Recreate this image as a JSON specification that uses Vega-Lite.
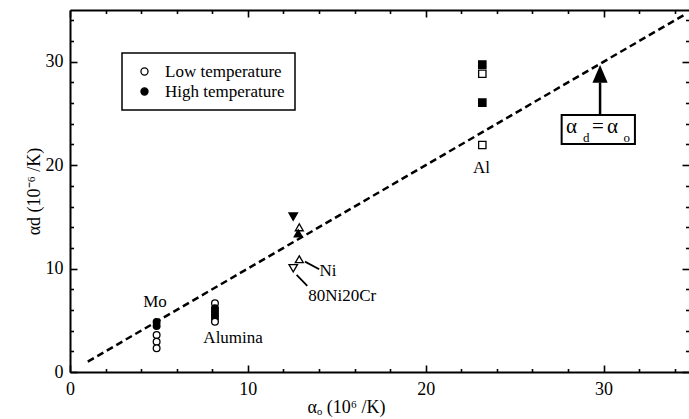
{
  "$schema": "https://vega.github.io/schema/vega-lite/v6.json",
  "width": 619,
  "height": 362,
  "autosize": "none",
  "padding": {"left": 70, "top": 10, "right": 0, "bottom": 47},
  "background": "white",
  "config": {
    "view": {"stroke": null},
    "font": "Liberation Serif",
    "axis": {
      "grid": false,
      "domainColor": "black",
      "domainWidth": 2,
      "tickColor": "black",
      "tickWidth": 1.6,
      "labelFlush": false,
      "labelOverlap": false
    },
    "legend": {"strokeWidth": 1.5}
  },
  "layer": [
    {
      "data": {"values": [{"x": 1.0, "y": 1.0, "x2": 34.6, "y2": 34.6}]},
      "mark": {"type": "rule", "strokeDash": [7, 4], "strokeWidth": 2.5, "color": "black"},
      "encoding": {
        "x": {
          "field": "x", "type": "quantitative",
          "scale": {"domain": [0, 34.8], "nice": false, "zero": false},
          "axis": {
            "orient": "bottom",
            "values": [0, 2, 4, 6, 8, 10, 12, 14, 16, 18, 20, 22, 24, 26, 28, 30, 32, 34],
            "labelExpr": "datum.value % 10 === 0 ? datum.label : ''",
            "tickSize": {"condition": {"test": "datum.value % 10 === 0", "value": -7}, "value": -3.5},
            "labelPadding": 15,
            "labelFont": "Liberation Serif",
            "labelFontSize": 18,
            "labelColor": "black",
            "title": "αₒ (10⁶ /K)",
            "titleFont": "Liberation Serif",
            "titleFontSize": 18,
            "titleFontWeight": "normal",
            "titleColor": "black",
            "titleX": 276,
            "titleY": 35,
            "titleBaseline": "middle",
            "titleAlign": "center"
          }
        },
        "y": {
          "field": "y", "type": "quantitative",
          "scale": {"domain": [0, 35], "nice": false, "zero": false},
          "axis": {
            "orient": "left",
            "values": [0, 2, 4, 6, 8, 10, 12, 14, 16, 18, 20, 22, 24, 26, 28, 30, 32, 34],
            "labelExpr": "datum.value % 10 === 0 ? datum.label : ''",
            "tickSize": {"condition": {"test": "datum.value % 10 === 0", "value": -7}, "value": -3.5},
            "labelPadding": 14,
            "labelFont": "Liberation Serif",
            "labelFontSize": 18,
            "labelColor": "black",
            "title": "αd (10⁻⁶ /K)",
            "titleFont": "Liberation Serif",
            "titleFontSize": 18,
            "titleFontWeight": "normal",
            "titleColor": "black",
            "titlePadding": 2
          }
        },
        "x2": {"field": "x2"},
        "y2": {"field": "y2"}
      }
    },
    {
      "data": {"values": [{"x": 29.8, "y": 24.85, "y2": 28.0}]},
      "mark": {"type": "rule", "strokeWidth": 2.5, "color": "black"},
      "encoding": {
        "x": {"field": "x", "type": "quantitative", "scale": {"domain": [0, 34.8], "nice": false, "zero": false}, "axis": null},
        "y": {"field": "y", "type": "quantitative", "scale": {"domain": [0, 35], "nice": false, "zero": false}, "axis": null},
        "y2": {"field": "y2"}
      }
    },
    {
      "data": {"values": [{"x": 29.8, "y": 28.82}]},
      "mark": {"type": "point", "shape": "M0,-1.1L-0.95,1.1L0.95,1.1Z", "size": 256, "filled": true, "color": "black", "opacity": 1},
      "encoding": {
        "x": {"field": "x", "type": "quantitative", "scale": {"domain": [0, 34.8], "nice": false, "zero": false}, "axis": null},
        "y": {"field": "y", "type": "quantitative", "scale": {"domain": [0, 35], "nice": false, "zero": false}, "axis": null}
      }
    },
    {
      "data": {"values": [{"x": 27.64, "x2": 31.76, "y": 22.05, "y2": 24.85}]},
      "mark": {"type": "rect", "fill": "white", "stroke": "black", "strokeWidth": 2},
      "encoding": {
        "x": {"field": "x", "type": "quantitative", "scale": {"domain": [0, 34.8], "nice": false, "zero": false}, "axis": null},
        "y": {"field": "y", "type": "quantitative", "scale": {"domain": [0, 35], "nice": false, "zero": false}, "axis": null},
        "x2": {"field": "x2"},
        "y2": {"field": "y2"}
      }
    },
    {
      "data": {"values": [
        {"x": 28.2, "y": 23.7, "t": "α"},
        {"x": 29.68, "y": 23.7, "t": "="},
        {"x": 30.5, "y": 23.7, "t": "α"}
      ]},
      "mark": {"type": "text", "font": "Liberation Serif", "fontSize": 21, "color": "black", "baseline": "middle", "align": "center"},
      "encoding": {
        "x": {"field": "x", "type": "quantitative", "scale": {"domain": [0, 34.8], "nice": false, "zero": false}, "axis": null},
        "y": {"field": "y", "type": "quantitative", "scale": {"domain": [0, 35], "nice": false, "zero": false}, "axis": null},
        "text": {"field": "t"}
      }
    },
    {
      "data": {"values": [
        {"x": 29.02, "y": 22.6, "t": "d"},
        {"x": 31.3, "y": 22.6, "t": "o"}
      ]},
      "mark": {"type": "text", "font": "Liberation Serif", "fontSize": 13, "color": "black", "baseline": "middle", "align": "center"},
      "encoding": {
        "x": {"field": "x", "type": "quantitative", "scale": {"domain": [0, 34.8], "nice": false, "zero": false}, "axis": null},
        "y": {"field": "y", "type": "quantitative", "scale": {"domain": [0, 35], "nice": false, "zero": false}, "axis": null},
        "text": {"field": "t"}
      }
    },
    {
      "data": {"values": [
        {"x": 13.21, "y": 10.67, "x2": 14.01, "y2": 9.93},
        {"x": 12.74, "y": 9.38, "x2": 13.34, "y2": 8.32}
      ]},
      "mark": {"type": "rule", "strokeWidth": 1.8, "color": "black"},
      "encoding": {
        "x": {"field": "x", "type": "quantitative", "scale": {"domain": [0, 34.8], "nice": false, "zero": false}, "axis": null},
        "y": {"field": "y", "type": "quantitative", "scale": {"domain": [0, 35], "nice": false, "zero": false}, "axis": null},
        "x2": {"field": "x2"},
        "y2": {"field": "y2"}
      }
    },
    {
      "data": {"values": [
        {"material": "Mo", "x": 4.87, "y": 4.84, "temp": "High temperature", "shape": "circle"},
        {"material": "Mo", "x": 4.87, "y": 4.45, "temp": "High temperature", "shape": "circle"},
        {"material": "Mo", "x": 4.87, "y": 3.58, "temp": "Low temperature", "shape": "circle"},
        {"material": "Mo", "x": 4.87, "y": 2.93, "temp": "Low temperature", "shape": "circle"},
        {"material": "Mo", "x": 4.87, "y": 2.29, "temp": "Low temperature", "shape": "circle"},
        {"material": "Alumina", "x": 8.15, "y": 6.64, "temp": "Low temperature", "shape": "circle"},
        {"material": "Alumina", "x": 8.15, "y": 6.16, "temp": "High temperature", "shape": "circle"},
        {"material": "Alumina", "x": 8.15, "y": 5.83, "temp": "High temperature", "shape": "circle"},
        {"material": "Alumina", "x": 8.15, "y": 5.51, "temp": "High temperature", "shape": "circle"},
        {"material": "Alumina", "x": 8.15, "y": 5.19, "temp": "High temperature", "shape": "circle"},
        {"material": "Alumina", "x": 8.15, "y": 4.86, "temp": "Low temperature", "shape": "circle"},
        {"material": "80Ni20Cr", "x": 12.55, "y": 15.02, "temp": "High temperature", "shape": "triangle-down"},
        {"material": "Ni", "x": 12.89, "y": 13.99, "temp": "Low temperature", "shape": "triangle-up"},
        {"material": "Ni", "x": 12.83, "y": 13.41, "temp": "High temperature", "shape": "triangle-up"},
        {"material": "Ni", "x": 12.89, "y": 10.9, "temp": "Low temperature", "shape": "triangle-up"},
        {"material": "80Ni20Cr", "x": 12.55, "y": 10.03, "temp": "Low temperature", "shape": "triangle-down"},
        {"material": "Al", "x": 23.18, "y": 29.72, "temp": "High temperature", "shape": "square"},
        {"material": "Al", "x": 23.18, "y": 28.84, "temp": "Low temperature", "shape": "square"},
        {"material": "Al", "x": 23.18, "y": 26.04, "temp": "High temperature", "shape": "square"},
        {"material": "Al", "x": 23.18, "y": 21.95, "temp": "Low temperature", "shape": "square"}
      ]},
      "mark": {"type": "point", "filled": true, "stroke": "black", "strokeWidth": 1.3, "opacity": 1, "fillOpacity": 1, "strokeOpacity": 1},
      "encoding": {
        "x": {
          "field": "x", "type": "quantitative",
          "scale": {"domain": [0, 34.8], "nice": false, "zero": false},
          "axis": {
            "orient": "top",
            "values": [0, 2, 4, 6, 8, 10, 12, 14, 16, 18, 20, 22, 24, 26, 28, 30, 32, 34],
            "labels": false,
            "title": null,
            "tickSize": {"condition": {"test": "datum.value % 10 === 0", "value": -7}, "value": -3.5}
          }
        },
        "y": {
          "field": "y", "type": "quantitative",
          "scale": {"domain": [0, 35], "nice": false, "zero": false},
          "axis": {
            "orient": "right",
            "values": [0, 2, 4, 6, 8, 10, 12, 14, 16, 18, 20, 22, 24, 26, 28, 30, 32, 34],
            "labels": false,
            "title": null,
            "domain": false,
            "tickSize": {"condition": {"test": "datum.value % 10 === 0", "value": -7}, "value": -3.5}
          }
        },
        "shape": {"field": "shape", "type": "nominal", "scale": null, "legend": null},
        "size": {
          "field": "shape", "type": "nominal",
          "scale": {"domain": ["circle", "square", "triangle-up", "triangle-down"], "range": [45, 72, 75, 90]},
          "legend": null
        },
        "fill": {
          "field": "temp", "type": "nominal",
          "scale": {"domain": ["Low temperature", "High temperature"], "range": ["white", "black"]},
          "legend": {
            "orient": "none",
            "direction": "vertical",
            "legendX": 52,
            "legendY": 43,
            "title": null,
            "strokeColor": "black",
            "padding": 10,
            "labelFont": "Liberation Serif",
            "labelFontSize": 17,
            "labelColor": "black",
            "symbolType": "circle",
            "symbolSize": 50,
            "symbolStrokeColor": "black",
            "symbolStrokeWidth": 1.3,
            "symbolOffset": 4,
            "labelOffset": 12,
            "rowPadding": 2
          }
        }
      }
    },
    {
      "data": {"values": [
        {"x": 4.78, "y": 6.8, "label": "Mo"},
        {"x": 9.17, "y": 3.26, "label": "Alumina"},
        {"x": 14.5, "y": 9.77, "label": "Ni"},
        {"x": 15.3, "y": 7.37, "label": "80Ni20Cr"},
        {"x": 23.13, "y": 19.7, "label": "Al"}
      ]},
      "mark": {"type": "text", "font": "Liberation Serif", "fontSize": 17, "color": "black", "baseline": "middle", "align": "center"},
      "encoding": {
        "x": {"field": "x", "type": "quantitative", "scale": {"domain": [0, 34.8], "nice": false, "zero": false}, "axis": null},
        "y": {"field": "y", "type": "quantitative", "scale": {"domain": [0, 35], "nice": false, "zero": false}, "axis": null},
        "text": {"field": "label"}
      }
    }
  ],
  "resolve": {"axis": {"x": "independent", "y": "independent"}}
}
